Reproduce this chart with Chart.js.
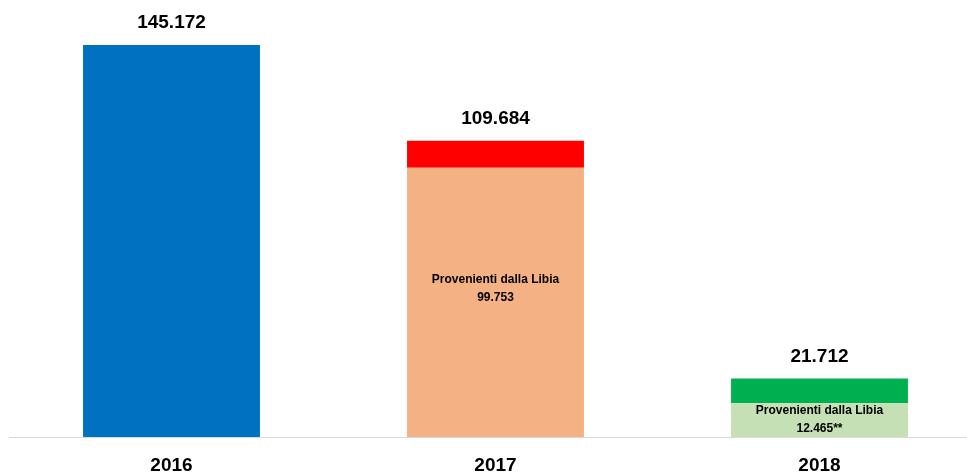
<!DOCTYPE html>
<html>
<head>
<meta charset="utf-8">
<script src="https://cdn.jsdelivr.net/npm/chart.js@4.4.0/dist/chart.umd.min.js"></script>
<style>
  html, body { margin: 0; padding: 0; background: #fff; overflow: hidden; }
  #box { position: absolute; left: 0; top: 0; width: 990px; height: 490px; }
</style>
</head>
<body>
<div id="box"><canvas id="myChart"></canvas></div>
<script>
// dati: sbarchi per anno
var anni = ['2016', '2017', '2018'];
var daLibia = [145172, 99753, 12465];   // parte bassa della colonna
var altri = [0, 9931, 9247];            // parte alta (altre provenienze)
var etichetteInterne = ['', 'Provenienti dalla Libia|99.753', 'Provenienti dalla Libia|12.465**'];

var coloriBase = ['#0070C0', '#F4B183', '#C5E0B4'];
var coloriAlto = ['#0070C0', '#FF0000', '#00B050'];

function formatta(n) {
  return String(n).replace(/\B(?=(\d{3})+(?!\d))/g, '.');
}

var etichette = {
  id: 'etichette',
  afterDatasetsDraw: function(chart) {
    var ctx = chart.ctx;
    var base = chart.getDatasetMeta(0);
    var alto = chart.getDatasetMeta(1);
    ctx.save();
    ctx.textAlign = 'center';
    ctx.textBaseline = 'middle';
    ctx.fillStyle = '#000';
    for (var i = 0; i < anni.length; i++) {
      // totale sopra la colonna
      var top = alto.data[i];
      ctx.font = 'bold 19px "Liberation Sans", Arial, sans-serif';
      ctx.fillText(formatta(daLibia[i] + altri[i]), top.x, top.y - 22);

      // testo dentro la parte dalla Libia
      if (etichetteInterne[i]) {
        var b = base.data[i];
        var righe = etichetteInterne[i].split('|');
        var h = b.base - b.y;
        var cy = (b.y + b.base) / 2;
        if (h > 100) cy -= 14;   // un po' sopra il centro nelle colonne alte
        ctx.font = 'bold 12px "Liberation Sans", Arial, sans-serif';
        ctx.fillText(righe[0], b.x, cy - 9);
        ctx.fillText(righe[1], b.x, cy + 9);
      }
    }
    ctx.restore();
  }
};

var myChart = document.getElementById('myChart').getContext('2d');
var grafico = new Chart(myChart, {
  type: 'bar',
  data: {
    labels: anni,
    datasets: [
      {
        label: 'Provenienti dalla Libia',
        data: daLibia,
        backgroundColor: coloriBase,
        borderWidth: 0,
        barPercentage: 0.546,
        categoryPercentage: 1
      },
      {
        label: 'Altre provenienze',
        data: altri,
        backgroundColor: coloriAlto,
        borderWidth: 0,
        barPercentage: 0.546,
        categoryPercentage: 1
      }
    ]
  },
  options: {
    responsive: true,
    maintainAspectRatio: false,
    animation: false,
    layout: { padding: { left: 9.5, right: 8.5, top: 5, bottom: 0 } },
    plugins: {
      legend: { display: false },
      tooltip: { enabled: false }
    },
    scales: {
      x: {
        stacked: true,
        grid: { display: false, drawTicks: false },
        border: { display: true, color: '#d9d9d9', width: 1 },
        ticks: {
          padding: 17,
          color: '#000',
          font: { family: '"Liberation Sans", Arial, sans-serif', size: 19, weight: 'bold' }
        },
        afterFit: function(scale) { scale.height = 53; }
      },
      y: {
        stacked: true,
        display: false,
        min: 0,
        max: 160000
      }
    }
  },
  plugins: [etichette]
});
</script>
</body>
</html>
